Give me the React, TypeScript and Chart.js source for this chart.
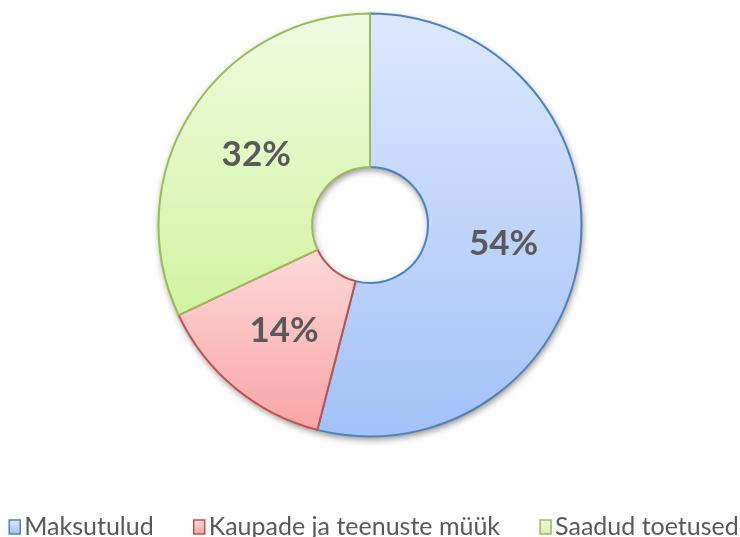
import React, { useEffect, useRef } from "react";
import { Chart, registerables } from "chart.js";

Chart.register(...registerables);

const categories = ["Maksutulud", "Kaupade ja teenuste müük", "Saadud toetused"];
const values = [54, 14, 32];
const borderColors = ["#4f81bd", "#c0504d", "#9bbb59"];
const topColors = ["#dde8fd", "#fdd9d9", "#f0fbe1"];
const bottomColors = ["#a3c1f7", "#f9a5a5", "#d2f3a1"];

const CUTOUT = 0.274;
const BORDER = 2;

function segmentYRange(chart: any, index: number) {
  const ca = chart.chartArea;
  const cy = (ca.top + ca.bottom) / 2;
  const R = (Math.min(ca.right - ca.left, ca.bottom - ca.top) - BORDER) / 2;
  const r = R * CUTOUT;
  const total = values.reduce((a, b) => a + b, 0);
  let cum = 0;
  for (let i = 0; i < index; i++) cum += values[i];
  const a0 = -Math.PI / 2 + (2 * Math.PI * cum) / total;
  const a1 = a0 + (2 * Math.PI * values[index]) / total;
  let minY = Infinity;
  let maxY = -Infinity;
  for (let k = 0; k <= 60; k++) {
    const a = a0 + ((a1 - a0) * k) / 60;
    for (const rad of [r, R]) {
      const y = cy + Math.sin(a) * rad;
      if (y < minY) minY = y;
      if (y > maxY) maxY = y;
    }
  }
  return [minY, maxY];
}

function fillFor(ctx: any) {
  const chart = ctx.chart;
  const i = ctx.dataIndex;
  if (!chart.chartArea || i === undefined) return topColors[i ?? 0];
  const [y0, y1] = segmentYRange(chart, i);
  const g = chart.ctx.createLinearGradient(0, y0, 0, y1);
  g.addColorStop(0, topColors[i]);
  g.addColorStop(1, bottomColors[i]);
  return g;
}

const ringShadow = {
  id: "ringShadow",
  beforeDatasetsDraw(chart: any) {
    const arc = chart.getDatasetMeta(0).data[0];
    if (!arc) return;
    const { x, y, outerRadius, innerRadius } = arc.getProps(["x", "y", "outerRadius", "innerRadius"], true);
    const c = chart.ctx;
    c.save();
    c.beginPath();
    c.arc(x, y, outerRadius, 0, Math.PI * 2);
    c.moveTo(x + innerRadius, y);
    c.arc(x, y, innerRadius, 0, Math.PI * 2, true);
    c.closePath();
    c.shadowColor = "rgba(0,0,0,0.45)";
    c.shadowBlur = 7;
    c.shadowOffsetX = 1;
    c.shadowOffsetY = 3;
    c.fillStyle = "#ffffff";
    c.fill("evenodd");
    c.restore();
  },
};

const percentLabels = {
  id: "percentLabels",
  afterDatasetsDraw(chart: any) {
    const meta = chart.getDatasetMeta(0);
    const total = values.reduce((a, b) => a + b, 0);
    const c = chart.ctx;
    c.save();
    c.font = "bold 35px Lato";
    c.fillStyle = "#595959";
    c.textAlign = "center";
    c.textBaseline = "middle";
    meta.data.forEach((el: any, i: number) => {
      const p = el.tooltipPosition(true);
      c.fillText(Math.round((values[i] / total) * 100) + "%", p.x, p.y + 2);
    });
    c.restore();
  },
};

const bottomLegend = {
  id: "bottomLegend",
  afterDraw(chart: any) {
    const c = chart.ctx;
    c.save();
    c.font = "25px Lato";
    const boxW = 11;
    const boxH = 14;
    const textGap = 4;
    const itemGap = 40;
    const widths = categories.map((t) => boxW + textGap + c.measureText(t).width);
    const total = widths.reduce((a, b) => a + b, 0) + itemGap * (categories.length - 1);
    let x = chart.width / 2 + 4 - total / 2;
    const baseline = 535;
    categories.forEach((t, i) => {
      const by = baseline - boxH - 1;
      const g = c.createLinearGradient(0, by, 0, by + boxH);
      g.addColorStop(0, topColors[i]);
      g.addColorStop(1, bottomColors[i]);
      c.fillStyle = g;
      c.fillRect(x, by, boxW, boxH);
      c.strokeStyle = borderColors[i];
      c.lineWidth = 1.5;
      c.strokeRect(x, by, boxW, boxH);
      c.fillStyle = "#595959";
      c.textBaseline = "alphabetic";
      c.textAlign = "left";
      c.fillText(t, x + boxW + textGap, baseline);
      x += widths[i] + itemGap;
    });
    c.restore();
  },
};

export default function App() {
  const ref = useRef<HTMLCanvasElement | null>(null);
  useEffect(() => {
    if (!ref.current) return;
    const chart = new Chart(ref.current, {
      type: "doughnut",
      data: {
        labels: categories,
        datasets: [
          {
            data: values,
            backgroundColor: fillFor as any,
            borderColor: borderColors,
            borderWidth: BORDER,
            borderAlign: "center",
          },
        ],
      },
      options: {
        responsive: false,
        animation: false,
        cutout: CUTOUT * 100 + "%",
        layout: { padding: { top: 12.5, bottom: 99.5, left: 0, right: 0 } },
        plugins: {
          legend: { display: false },
          tooltip: { enabled: false },
        },
      },
      plugins: [ringShadow, percentLabels, bottomLegend],
    });
    return () => chart.destroy();
  }, []);
  return (
    <div style={{ position: "absolute", left: 0, top: 0, width: 740, height: 537, background: "#ffffff" }}>
      <canvas ref={ref} width={740} height={537} style={{ display: "block" }} />
    </div>
  );
}
